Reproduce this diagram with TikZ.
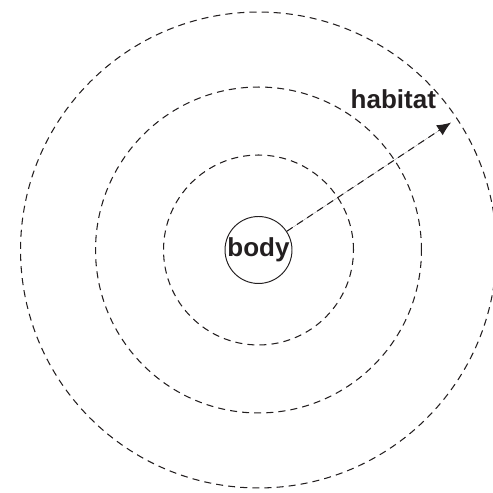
\documentclass[tikz,border=0pt]{standalone}
\usepackage{fontspec}
\setmainfont{Liberation Sans}
\usepackage{tikz}
\usetikzlibrary{arrows.meta,positioning}
\definecolor{mInk}{RGB}{35,31,32}
\tikzset{
  zone/.style={draw=mInk,circle,line width=0.6pt,dash pattern=on 4pt off 2.9pt,inner sep=0pt},
  lbl/.style={font=\bfseries\fontsize{14.8}{16}\selectfont,text=mInk}
}

\begin{document}
\begin{tikzpicture}[x=0.02cm,y=0.02cm]
\useasboundingbox (0,0) rectangle (493,493);
\clip (0,0) rectangle (493,493);
\node[zone,minimum size=3.8cm] (inner) at (258.5,243) {};
\node[zone,minimum size=6.52cm] (middle) at (258.5,243) {};
\node[zone,minimum size=9.52cm] (outer) at (258.5,243) {};
\node[draw=mInk,circle,line width=0.55pt,minimum size=1.34cm,inner sep=0pt,fill=white,lbl] (body) at (258.5,243) {body};
\coordinate (tip) at ([shift={(33.5:231)}]inner.center);
\node[lbl,above left=0.16cm and 0.18cm of tip] (habitat) {habitat};
\draw[-{Latex[length=0.28cm,width=0.24cm]},draw=mInk,fill=mInk,line width=0.6pt,dash pattern=on 4pt off 2.9pt] (body)--(tip);
\end{tikzpicture}
\end{document}
